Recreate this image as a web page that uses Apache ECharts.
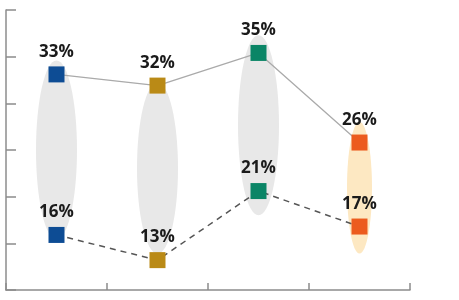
<!DOCTYPE html>
<html>
<head>
<meta charset="utf-8">
<script src="https://cdn.jsdelivr.net/npm/echarts@6/dist/echarts.min.js"></script>
<style>html,body{margin:0;padding:0;background:#fff}#c{width:459px;height:300px}</style>
</head>
<body>
<div id="c"></div>
<script>
const categories = ['1', '2', '3', '4'];
const topValues = [33.1, 31.9, 35.4, 25.8];
const bottomValues = [15.9, 13.2, 20.6, 16.8];
const ellipseTop = [34.6, 32.2, 37.3, 28.0];
const ellipseBottom = [15.4, 13.9, 18.0, 13.9];
const yTicks = [10, 15, 20, 25, 30, 35, 40];

const markerColors = ['#0D4C94', '#BA8A16', '#0A8566', '#EC5B1E'];
const ellipseColors = ['#E8E8E8', '#E8E8E8', '#E8E8E8', '#FDE8C2'];
const ellipseWidths = [41, 41, 41, 25];

const chart = echarts.init(document.getElementById('c'), null, {renderer: 'canvas'});
const labelStyle = {
  show: true, position: 'top', distance: 6,
  fontFamily: 'Open Sans', fontWeight: 'bold', fontSize: 17, color: '#1a1a1a',
  formatter: p => Math.round(p.value) + '%'
};
function pts(vals) {
  return vals.map((v, i) => ({value: v, itemStyle: {color: markerColors[i]}}));
}
chart.setOption({
  animation: false,
  grid: {left: 6, right: 49, top: 10, bottom: 10, containLabel: false},
  xAxis: {
    type: 'category', data: categories, boundaryGap: true,
    axisLine: {lineStyle: {color: '#8c8c8c', width: 1.5}},
    axisTick: {show: true, inside: true, length: 7, lineStyle: {color: '#8c8c8c', width: 1.5}},
    axisLabel: {show: false}, splitLine: {show: false}
  },
  yAxis: {
    type: 'value', min: yTicks[0], max: yTicks[yTicks.length - 1], interval: yTicks[1] - yTicks[0],
    axisLine: {show: true, lineStyle: {color: '#8c8c8c', width: 1.5}},
    axisTick: {show: true, inside: true, length: 10, lineStyle: {color: '#8c8c8c', width: 1.5}},
    axisLabel: {show: false}, splitLine: {show: false}
  },
  series: [
    {
      type: 'custom', z: 1,
      data: categories.map((c, i) => [i, ellipseTop[i], ellipseBottom[i]]),
      encode: {x: 0, y: [1, 2]},
      renderItem: function (params, api) {
        const i = api.value(0);
        const t = api.coord([i, api.value(1)]);
        const b = api.coord([i, api.value(2)]);
        return {
          type: 'ellipse',
          shape: {cx: t[0], cy: (t[1] + b[1]) / 2, rx: ellipseWidths[i] / 2, ry: (b[1] - t[1]) / 2},
          style: {fill: ellipseColors[i]}
        };
      }
    },
    {
      type: 'line', z: 3, data: pts(topValues),
      symbol: 'rect', symbolSize: 16,
      lineStyle: {color: '#aaaaaa', width: 1.3},
      label: labelStyle
    },
    {
      type: 'line', z: 3, data: pts(bottomValues),
      symbol: 'rect', symbolSize: 16,
      lineStyle: {color: '#555555', width: 1.5, type: [6, 5]},
      label: labelStyle
    }
  ]
});
</script>
</body>
</html>
